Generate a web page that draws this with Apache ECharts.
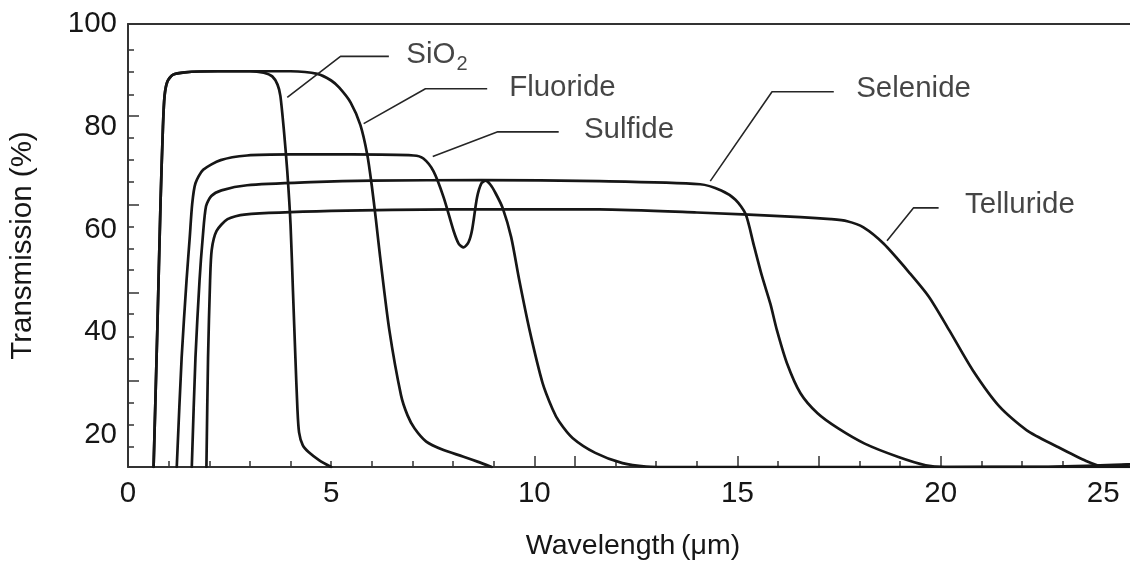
<!DOCTYPE html>
<html>
<head>
<meta charset="utf-8">
<script src="https://cdn.jsdelivr.net/npm/echarts@6/dist/echarts.min.js"></script>
<style>
  html, body { margin: 0; padding: 0; background: #fff; }
  #chart { width: 1130px; height: 566px; }
</style>
</head>
<body>
<div id="chart"></div>
<script>
// axis ticks and labels
const xLabelValues = [0, 5, 10, 15, 20, 24]
const xLabelTexts = ['0', '5', '10', '15', '20', '25']
const xShortTicks = [1, 2, 3, 4, 5, 6, 7, 8, 9, 12, 13, 14, 16, 18, 19, 21, 22, 23]
const xLongTicks = [10, 11, 15, 17, 20]
const yLabelValues = [100, 80, 60, 40, 20]
const yShortTicks = [95.0, 90.8, 86.3, 77.9, 73.5, 69.2, 60.6, 56.3, 52.1, 43.5, 39.2, 34.8, 26.3, 21.9, 17.75]
const yLongTicks = [82.2, 64.9, 47.6, 30.6]

// curves: [wavelength um, transmission %]
const sio2 = [
  [0.63, 13.75], [0.72, 40], [0.8, 65], [0.86, 80], [0.9, 86], [0.97, 88.8], [1.1, 90.1],
  [1.4, 90.6], [2.2, 90.8], [3.0, 90.8], [3.34, 90.5], [3.55, 89.8], [3.68, 88.2], [3.75, 86.0],
  [3.84, 79.0], [3.92, 71.3], [4.0, 61.0], [4.06, 48], [4.12, 35], [4.17, 25], [4.21, 20.5],
  [4.3, 18], [4.45, 16.6], [4.7, 15.1], [5.0, 13.75]
]
const fluoride = [
  [0.63, 13.75], [0.72, 40], [0.8, 65], [0.86, 80], [0.9, 86], [0.97, 88.8], [1.1, 90.1],
  [1.4, 90.6], [2.2, 90.8], [3.0, 90.8], [4.0, 90.8], [4.66, 90.3], [5.0, 89.0], [5.2, 87.6],
  [5.48, 84.7], [5.72, 80.3], [5.89, 74.5], [6.0, 68.5], [6.1, 62], [6.2, 55], [6.43, 40.5],
  [6.72, 27.7], [6.88, 23.8], [7.05, 21.3], [7.34, 18.7], [7.75, 17.1], [8.24, 15.8],
  [8.6, 14.8], [8.95, 13.75]
]
const sulfide = [
  [1.2, 13.75], [1.32, 35], [1.44, 50], [1.52, 58.5], [1.58, 65], [1.66, 69], [1.85, 71.6],
  [2.28, 73.5], [2.93, 74.4], [4, 74.6], [5.5, 74.6], [7.03, 74.4], [7.27, 73.8], [7.52, 71.3],
  [7.77, 66.2], [8.01, 59.8], [8.14, 57.2], [8.26, 56.5], [8.38, 57.5], [8.47, 60], [8.59, 66.2],
  [8.7, 69], [8.8, 69.5], [8.92, 68.7], [9.05, 67], [9.22, 64.2], [9.43, 58.5], [9.63, 50.1],
  [9.88, 40.5], [10.2, 30.2], [10.45, 25], [10.61, 22.6], [10.94, 19.4], [11.5, 16.5],
  [12.17, 14.5], [12.75, 13.85], [13.5, 13.75], [24.7, 13.75]
]
const selenide = [
  [1.57, 13.75], [1.66, 35], [1.76, 50], [1.84, 58.5], [1.92, 64.5], [2.05, 66.5], [2.3, 67.6],
  [2.93, 68.6], [4.5, 69.2], [6, 69.5], [8.7, 69.6], [11.6, 69.4], [14.08, 68.8], [14.6, 67.6],
  [14.95, 65.8], [15.2, 63], [15.4, 57], [15.6, 51], [15.81, 45.5], [15.97, 40.4], [16.22, 33.9],
  [16.55, 28.1], [16.97, 24.2], [17.47, 21.3], [18.13, 18.3], [18.96, 15.7], [19.63, 14.1],
  [20.1, 13.75], [22.5, 13.8], [24.7, 14.3]
]
const telluride = [
  [1.93, 13.75], [1.97, 35], [2.02, 50], [2.06, 56], [2.18, 59.7], [2.45, 62], [2.86, 62.9],
  [5, 63.6], [8, 63.9], [11.6, 63.9], [14, 63.3], [16.55, 62.4], [17.3, 62], [17.7, 61.6],
  [18.1, 60.4], [18.6, 57.2], [19.25, 51.4], [19.71, 46.9], [20.21, 40.4], [20.79, 32.6],
  [21.45, 25.5], [22.12, 20.9], [22.87, 17.7], [23.53, 15.1], [24.03, 13.8], [24.7, 14.3]
]

// leader lines and where the names sit
const leaders = [
  [[3.92, 85.7], [5.23, 93.7], [6.42, 93.7]],
  [[5.8, 80.6], [7.32, 87.4], [8.84, 87.4]],
  [[7.5, 74.2], [9.1, 79.0], [10.6, 79.0]],
  [[14.33, 69.4], [15.85, 86.8], [17.37, 86.8]],
  [[18.68, 57.8], [19.33, 64.2], [19.95, 64.2]]
]
const curveNames = ['SiO2', 'Fluoride', 'Sulfide', 'Selenide', 'Telluride']
const namePoints = [[6.85, 94.0], [9.38, 87.5], [11.22, 79.4], [17.92, 87.4], [20.6, 64.8]]

const FONT = 'Liberation Sans, Arial, Helvetica, sans-serif'
const INK = '#161616'
const AXIS = '#333333'

const chart = echarts.init(document.getElementById('chart'))

const curveSeries = [sio2, fluoride, sulfide, selenide, telluride].map((d, i) => ({
  name: curveNames[i],
  type: 'line',
  data: d,
  smooth: 0.25,
  showSymbol: false,
  symbol: 'none',
  clip: true,
  lineStyle: { color: INK, width: 2.7, join: 'round', cap: 'round' },
  z: 3
}))

const leaderSeries = leaders.map(d => ({
  type: 'line',
  data: d,
  symbol: 'none',
  lineStyle: { color: '#262626', width: 1.6 },
  z: 3
}))

const labelSeries = {
  type: 'scatter',
  symbolSize: 0,
  data: namePoints.map((p, i) => ({ value: p, name: curveNames[i] })),
  label: {
    show: true,
    position: 'right',
    distance: 0,
    color: INK,
    fontFamily: FONT,
    fontSize: 29.5,
    formatter: p => p.name === 'SiO2' ? '{m|SiO}{s|2}' : p.name,
    rich: {
      m: { fontFamily: FONT, fontSize: 29.5, color: INK },
      s: { fontFamily: FONT, fontSize: 20, color: INK, padding: [19, 0, 0, 1] }
    }
  },
  z: 4
}

const option = {
  backgroundColor: '#fff',
  animation: false,
  grid: { left: 127.4, right: 0, top: 24, bottom: 93.5 },
  xAxis: [
    {
      type: 'value',
      position: 'bottom',
      min: 0,
      max: 24.66,
      name: 'Wavelength\u2009(\u03bcm)',
      nameLocation: 'middle',
      nameGap: 65,
      nameTextStyle: { color: INK, fontFamily: FONT, fontSize: 28.5, padding: [0, 0, 0, 8] },
      axisLine: { show: true, lineStyle: { color: AXIS, width: 2 } },
      axisTick: { show: true, inside: true, length: 6, customValues: xShortTicks, lineStyle: { color: AXIS, width: 1.5 } },
      axisLabel: {
        show: true,
        customValues: xLabelValues,
        margin: 12,
        color: INK,
        fontFamily: FONT,
        fontSize: 29.5,
        formatter: v => xLabelTexts[xLabelValues.indexOf(v)]
      },
      splitLine: { show: false }
    },
    {
      type: 'value',
      position: 'top',
      min: 0,
      max: 24.66,
      axisLine: { show: true, lineStyle: { color: AXIS, width: 2 } },
      axisTick: { show: false },
      axisLabel: { show: false },
      splitLine: { show: false }
    },
    {
      type: 'value',
      position: 'bottom',
      min: 0,
      max: 24.66,
      axisLine: { show: false },
      axisTick: { show: true, inside: true, length: 11, customValues: xLongTicks, lineStyle: { color: AXIS, width: 1.5 } },
      axisLabel: { show: false },
      splitLine: { show: false }
    }
  ],
  yAxis: [
    {
      type: 'value',
      min: 13.75,
      max: 100,
      name: 'Transmission (%)',
      nameLocation: 'middle',
      nameGap: 90,
      nameTextStyle: { color: INK, fontFamily: FONT, fontSize: 29.5 },
      axisLine: { show: true, lineStyle: { color: AXIS, width: 2 } },
      axisTick: { show: true, inside: true, length: 6, customValues: yShortTicks, lineStyle: { color: AXIS, width: 1.5 } },
      axisLabel: {
        show: true,
        customValues: yLabelValues,
        margin: 11,
        color: INK,
        fontFamily: FONT,
        fontSize: 29.5
      },
      splitLine: { show: false }
    },
    {
      type: 'value',
      position: 'left',
      min: 13.75,
      max: 100,
      axisLine: { show: false },
      axisTick: { show: true, inside: true, length: 11, customValues: yLongTicks, lineStyle: { color: AXIS, width: 1.5 } },
      axisLabel: { show: false },
      splitLine: { show: false }
    }
  ],
  series: [...curveSeries, ...leaderSeries, labelSeries]
}

chart.setOption(option)
</script>
</body>
</html>
